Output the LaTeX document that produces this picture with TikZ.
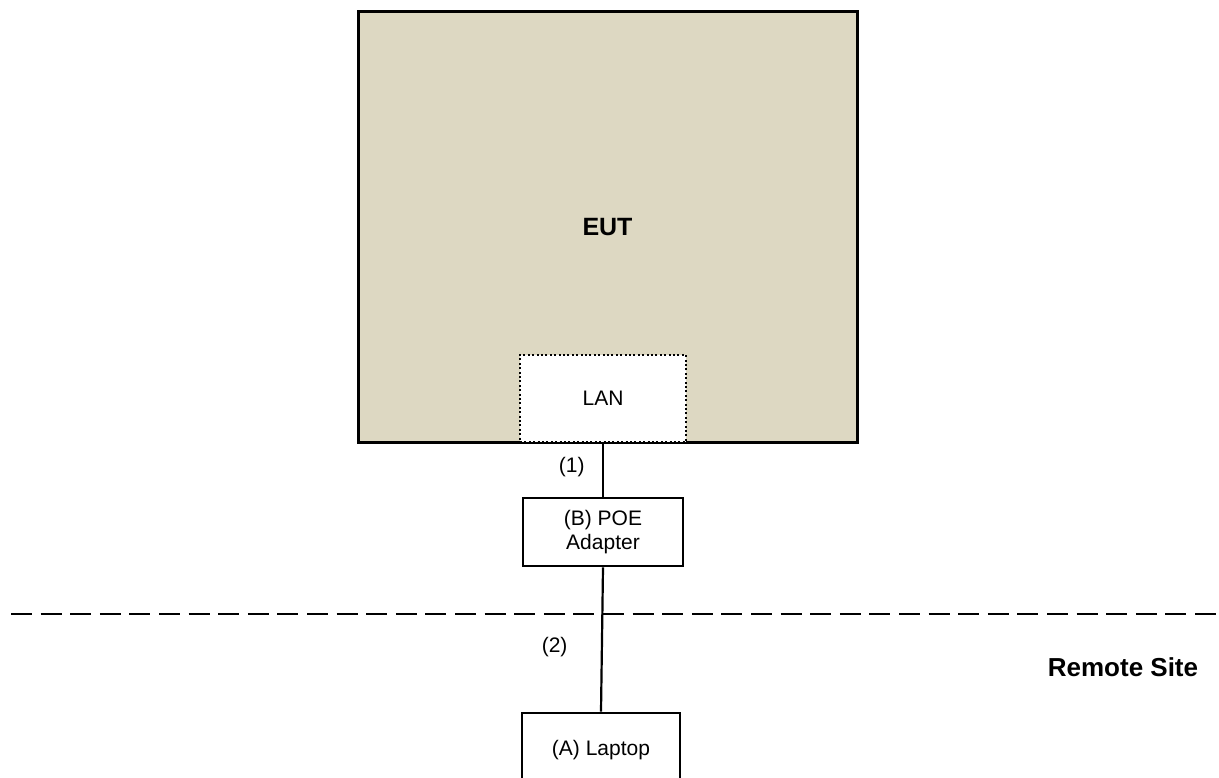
\documentclass[tikz,border=0pt]{standalone}
\usepackage{fontspec}
\setmainfont{Liberation Sans}
\usepackage{tikz}
\usetikzlibrary{positioning}

\definecolor{eutfill}{RGB}{221,216,194}

\tikzset{
  unit/.style={draw, line width=2.6pt, fill=white, inner sep=0pt,
    font=\fontsize{21}{25}\selectfont, align=center},
  wire/.style={line width=2.2pt},
  tag/.style={font=\fontsize{21}{25}\selectfont},
  heading/.style={font=\fontsize{26}{30}\selectfont\bfseries}
}

\begin{document}
\begin{tikzpicture}[x=1pt,y=-1pt]
  \useasboundingbox (0,0) rectangle (1219,778);
  \node (eut) [unit, fill=eutfill, line width=3pt, minimum width=499pt,
    minimum height=430pt, font=\fontsize{25}{30}\selectfont\bfseries]
    at (607.5,227) {EUT};
  \node (lan) [unit, line width=2pt, dash pattern=on 2pt off 2.4pt,
    minimum width=166pt, minimum height=87pt] at (603,398.5) {LAN};
  \node (poe) [unit, minimum width=160pt, minimum height=68pt] at (603,532)
    {(B) POE\\[-1pt]Adapter};
  \node (laptop) [unit, minimum width=158pt, minimum height=74pt] at (601,750)
    {(A) Laptop};
  \node (remote) [heading] at (1123,667) {Remote Site};
  % site border
  \coordinate (sitel) at (11,614);
  \coordinate (siter) at (1225,614);
  \draw [line width=2.2pt, dash pattern=on 21pt off 8.6pt] (sitel) -- (siter);
  % cables
  \draw [wire] (lan.south) -- node [tag, pos=0.45, left=14pt] {(1)} (poe.north);
  \draw [wire] (poe.south) -- node [tag, pos=0.55, left=30pt] {(2)} (laptop.north);
\end{tikzpicture}
\end{document}
